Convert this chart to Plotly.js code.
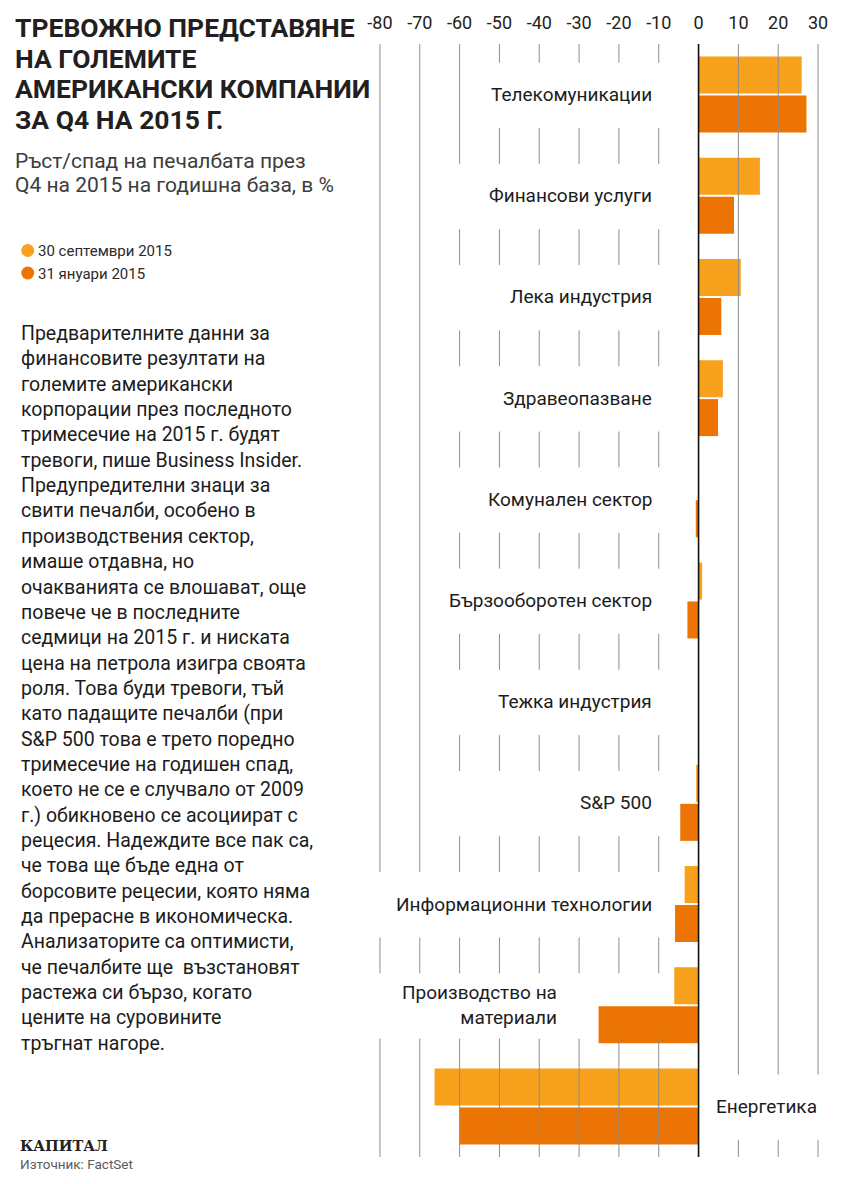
<!DOCTYPE html>
<html lang="bg">
<head>
<meta charset="utf-8">
<script src="https://cdn.plot.ly/plotly-3.0.1.min.js"></script>
<style>
  html, body { margin: 0; padding: 0; background: #fff; }
  #chart { width: 850px; height: 1184px; }
</style>
</head>
<body>
<div id="chart"></div>
<script>
// ---------- DATA ----------
const categories = [
  'Телекомуникации',
  'Финансови услуги',
  'Лека индустрия',
  'Здравеопазване',
  'Комунален сектор',
  'Бързооборотен сектор',
  'Тежка индустрия',
  'S&P 500',
  'Информационни технологии',
  'Производство на материали',
  'Енергетика'
];
const seriesNames = ['30 септември 2015', '31 януари 2015'];
const sep2015 = [25.9, 15.4, 10.6, 6.1, 0, 0.9, 0, -0.6, -3.5, -6.1, -66.3];
const jan2015 = [27.1, 8.9, 5.7, 4.9, -0.7, -2.8, 0, -4.6, -5.9, -25.1, -60.0];
const tickVals = [-80, -70, -60, -50, -40, -30, -20, -10, 0, 10, 20, 30];
const tickLabels = ['-80', '-70', '-60', '-50', '-40', '-30', '-20', '-10', '0', '10', '20', '30'];

const titleLines = ['ТРЕВОЖНО ПРЕДСТАВЯНЕ', 'НА ГОЛЕМИТЕ', 'АМЕРИКАНСКИ КОМПАНИИ', 'ЗА Q4 НА 2015 Г.'];
const subtitleLines = ['Ръст/спад на печалбата през', 'Q4 на 2015 на годишна база, в %'];
const bodyLines = [
  'Предварителните данни за',
  'финансовите резултати на',
  'големите американски',
  'корпорации през последното',
  'тримесечие на 2015 г. будят',
  'тревоги, пише Business Insider.',
  'Предупредителни знаци за',
  'свити печалби, особено в',
  'производствения сектор,',
  'имаше отдавна, но',
  'очакванията се влошават, още',
  'повече че в последните',
  'седмици на 2015 г. и ниската',
  'цена на петрола изигра своята',
  'роля. Това буди тревоги, тъй',
  'като падащите печалби (при',
  'S&P 500 това е трето поредно',
  'тримесечие на годишен спад,',
  'което не се е случвало от 2009',
  'г.) обикновено се асоциират с',
  'рецесия. Надеждите все пак са,',
  'че това ще бъде една от',
  'борсовите рецесии, която няма',
  'да прерасне в икономическа.',
  'Анализаторите са оптимисти,',
  'че печалбите ще  възстановят',
  'растежа си бързо, когато',
  'цените на суровините',
  'тръгнат нагоре.'
];
const brandText = 'КАПИТАЛ';
const sourceText = 'Източник: FactSet';

// ---------- STYLE / LAYOUT ----------
const LIGHT = '#F8A11C';
const DARK = '#EC7404';
const GRID = '#8e8e8e';
const FONT = 'Roboto, "Open Sans", sans-serif';

const W = 850, H = 1184;
const M = { l: 372, r: 23.7, t: 44, b: 27 };
const plotW = W - M.l - M.r, plotH = H - M.t - M.b;
const px2x = px => (px - M.l) / plotW;      // pixel -> paper x
const py2y = py => (H - M.b - py) / plotH;  // pixel -> paper y

const traces = [
  { type: 'bar', orientation: 'h', name: seriesNames[0], y: categories, x: sep2015,
    marker: { color: LIGHT, line: { width: 0 } }, hoverinfo: 'skip' },
  { type: 'bar', orientation: 'h', name: seriesNames[1], y: categories, x: jan2015,
    marker: { color: DARK, line: { width: 0 } }, hoverinfo: 'skip' }
];

// which gridlines get interrupted by each row's label
function maskFor(i) {
  const n = categories.length;
  if (i === n - 1) return [10, 30];      // label on the right side
  if (i === 0) return [-50, -10];
  if (i >= n - 3) return [-80, -10];     // wide labels
  return [-60, -10];
}
const GAP_BEFORE = 0.315, GAP_AFTER = 0.33;

const shapes = [];
tickVals.forEach(v => {
  if (v === 0) return;
  let start = -0.5;
  categories.forEach((c, i) => {
    const m = maskFor(i);
    if (v >= m[0] && v <= m[1]) {
      const end = i - GAP_BEFORE;
      if (end > start) shapes.push({ type: 'line', xref: 'x', yref: 'y', x0: v, x1: v, y0: start, y1: end,
        line: { color: GRID, width: 1 }, layer: 'above' });
      start = i + GAP_AFTER;
    }
  });
  const last = categories.length - 0.5;
  if (last > start) shapes.push({ type: 'line', xref: 'x', yref: 'y', x0: v, x1: v, y0: start, y1: last,
    line: { color: GRID, width: 1 }, layer: 'above' });
});
// zero line
shapes.push({ type: 'line', xref: 'x', yref: 'y', x0: 0, x1: 0, y0: -0.5, y1: categories.length - 0.5,
  line: { color: '#111', width: 1.6 }, layer: 'above' });

// legend dots
[LIGHT, DARK].forEach((col, k) => {
  const cy = 250.5 + k * 22.5, cx = 27.5, r = 6.5;
  shapes.push({ type: 'circle', xref: 'paper', yref: 'paper',
    x0: px2x(cx - r), x1: px2x(cx + r), y0: py2y(cy + r), y1: py2y(cy - r),
    fillcolor: col, line: { width: 0 } });
});

const annotations = [];
// category labels
categories.forEach((c, i) => {
  const n = categories.length;
  let text = c, x = -11.2, xanchor = 'right';
  if (i === n - 2) { text = c.replace('Производство на ', 'Производство на<br>'); x = -35.1; }
  if (i === n - 1) { x = 4.0; xanchor = 'left'; }
  annotations.push({ xref: 'x', yref: 'y', x: x, y: i, xanchor: xanchor, yanchor: 'middle',
    text: text, showarrow: false, align: xanchor === 'left' ? 'left' : 'right',
    font: { family: FONT, size: 19, color: '#1c1c1c' } });
});
// title
const titleY = [28, 58, 88.5, 120];
titleLines.forEach((t, k) => annotations.push({ xref: 'paper', yref: 'paper', x: px2x(13), y: py2y(titleY[k]),
  xanchor: 'left', yanchor: 'middle', text: '<b>' + t + '</b>', showarrow: false,
  font: { family: FONT, size: 26.5, color: '#231f20' } }));
// subtitle
const subY = [161, 185];
subtitleLines.forEach((t, k) => annotations.push({ xref: 'paper', yref: 'paper', x: px2x(13), y: py2y(subY[k]),
  xanchor: 'left', yanchor: 'middle', text: t, showarrow: false,
  font: { family: FONT, size: 21, color: '#3d3d3d' } }));
// legend text
seriesNames.forEach((t, k) => annotations.push({ xref: 'paper', yref: 'paper', x: px2x(36), y: py2y(251 + k * 22.5),
  xanchor: 'left', yanchor: 'middle', text: t, showarrow: false,
  font: { family: FONT, size: 15, color: '#2a2a2a' } }));
// body paragraph
annotations.push({ xref: 'paper', yref: 'paper', x: px2x(19), y: py2y(688), xanchor: 'left', yanchor: 'middle',
  text: bodyLines.join('<br>'), align: 'left', showarrow: false,
  font: { family: FONT, size: 19.5, color: '#1c1c1c' } });
// footer
annotations.push({ xref: 'paper', yref: 'paper', x: px2x(18), y: py2y(1145), xanchor: 'left', yanchor: 'middle',
  text: '<b>' + brandText + '</b>', showarrow: false,
  font: { family: '"DejaVu Serif", "Liberation Serif", serif', size: 14.5, color: '#222' } });
annotations.push({ xref: 'paper', yref: 'paper', x: px2x(18), y: py2y(1164), xanchor: 'left', yanchor: 'middle',
  text: sourceText, showarrow: false,
  font: { family: FONT, size: 13.5, color: '#5a5a5a' } });

const layout = {
  width: W, height: H,
  margin: { l: M.l, r: M.r, t: M.t, b: M.b, pad: 0 },
  paper_bgcolor: '#ffffff', plot_bgcolor: '#ffffff',
  barmode: 'group', bargap: 0.23, bargroupgap: 0.05,
  showlegend: false,
  font: { family: FONT },
  xaxis: { range: [-82, 32], side: 'top', tickmode: 'array', tickvals: tickVals, ticktext: tickLabels,
    showgrid: false, zeroline: false, showline: false, ticks: '', ticklabelstandoff: 10,
    tickfont: { family: FONT, size: 18, color: '#222' }, fixedrange: true },
  yaxis: { type: 'category', range: [categories.length - 0.5, -0.5], showticklabels: false,
    showgrid: false, zeroline: false, showline: false, ticks: '', fixedrange: true },
  shapes: shapes,
  annotations: annotations
};

Plotly.newPlot('chart', traces, layout, { staticPlot: true, displayModeBar: false });
</script>
</body>
</html>
